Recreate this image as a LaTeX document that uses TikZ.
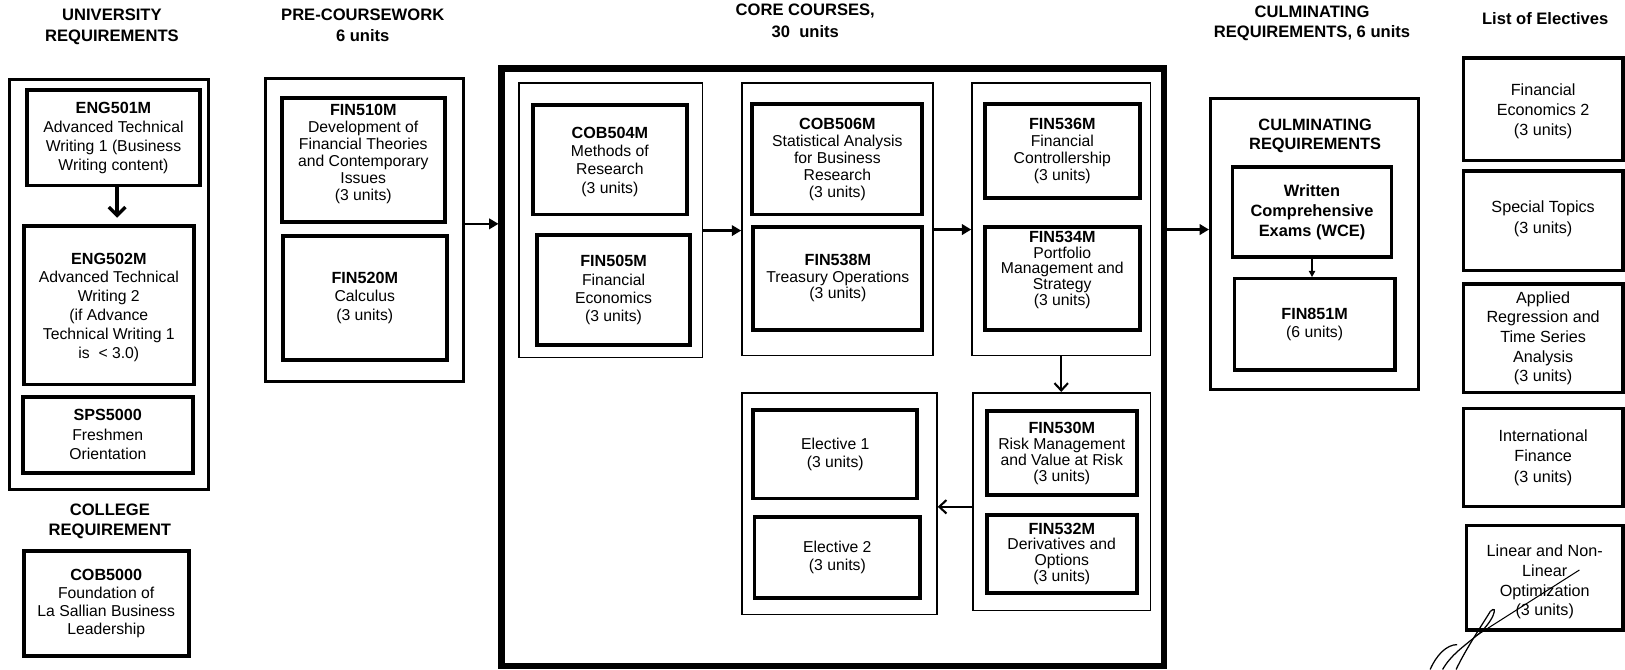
\documentclass[tikz,border=0pt]{standalone}
\usepackage{fontspec}
\setmainfont{Liberation Sans}
\usetikzlibrary{arrows.meta}
\newcommand\fsz[1]{\fontsize{7.6}{#1}\selectfont}
\newcommand\code[1]{{\bfseries\fontsize{7.8}{9}\selectfont #1}}
% box with text: style, name, x1, y1, x2, y2, text options, text
\newcommand\boxnode[8]{%
  \pgfmathsetmacro\bw{(#5-#3)*0.5}%
  \pgfmathsetmacro\bh{(#6-#4)*0.5}%
  \node[#1, minimum width=\bw pt, minimum height=\bh pt] (#2) at ({(#3+#5)/2},{(#4+#6)/2}) {};%
  \node[txt, #7] (#2t) at (#2.center) {#8};}
% box without text
\newcommand\gbox[6]{%
  \pgfmathsetmacro\bw{(#5-#3)*0.5}%
  \pgfmathsetmacro\bh{(#6-#4)*0.5}%
  \node[#1, minimum width=\bw pt, minimum height=\bh pt] (#2) at ({(#3+#5)/2},{(#4+#6)/2}) {};}
\tikzset{
  course/.style={draw, line width=1.9pt, inner sep=0pt},
  outerbox/.style={draw, line width=1.4pt, inner sep=0pt},
  group/.style={draw, line width=0.8pt, inner sep=0pt},
  corebox/.style={draw, line width=3pt, inner sep=0pt},
  elecbox/.style={draw, line width=1.6pt, inner sep=0pt},
  txt/.style={align=center, inner sep=0pt, font={\fsz{8.8}}},
  title/.style={align=center, inner sep=0pt, font={\bfseries\fontsize{8}{9.9}\selectfont}},
  solidarr/.style={line width=1.3pt, -{Triangle[length=4.5pt,width=5pt]}},
  barbthick/.style={line width=1.6pt, -{Straight Barb[length=4pt,width=8pt]}},
  barbarr/.style={line width=1pt, -{Straight Barb[length=3.5pt,width=6.5pt]}},
  thinarr/.style={line width=0.8pt, -{Triangle[length=3pt,width=3pt]}},
}
\begin{document}
\begin{tikzpicture}[x=0.5pt,y=-0.5pt]
\useasboundingbox (0,0) rectangle (1568,646);

% ---- titles
\node[title] (tUniv) at (108,26) {UNIVERSITY\\REQUIREMENTS};
\node[title] (tPre) at (350,24.5) {PRE-COURSEWORK\\6 units};
\node[title, font={\bfseries\fontsize{8}{10.5}\selectfont}] (tCore) at (777,20) {CORE COURSES,\\30\ \ units};
\node[title] (tCulm) at (1266,22.5) {CULMINATING\\REQUIREMENTS, 6 units};
\node[title] (tElec) at (1491,18) {List of Electives};
\node[title] (tColl) at (106,503) {COLLEGE\\REQUIREMENT};

% ---- university requirements
\gbox{outerbox}{univ}{9}{77}{201}{472}
\boxnode{course}{eng1}{26}{87}{193}{179}{font={\fsz{9.1}}}{\code{ENG501M}\\Advanced Technical\\Writing 1 (Business\\Writing content)}
\boxnode{course}{eng2}{23}{218}{187}{371}{yshift=-1pt, font={\fsz{9.1}}}{\code{ENG502M}\\Advanced Technical\\Writing 2\\(if Advance\\Technical Writing 1\\is\ \ < 3.0)}
\boxnode{course}{sps}{22}{383}{186}{456}{font={\fsz{9.4}}}{\code{SPS5000}\\Freshmen\\Orientation}
\boxnode{course}{cob5000}{23}{532}{182}{633}{font={\fsz{8.6}}}{\code{COB5000}\\Foundation of\\La Sallian Business\\Leadership}

% ---- pre-coursework
\gbox{outerbox}{pre}{256}{76}{447}{368}
\boxnode{course}{fin510}{272}{95}{429}{214}{yshift=3pt, font={\fsz{8.2}}}{\code{FIN510M}\\Development of\\Financial Theories\\and Contemporary\\Issues\\(3 units)}
\boxnode{course}{fin520}{273}{228}{431}{347}{font={\fsz{9}}}{\code{FIN520M}\\Calculus\\(3 units)}

% ---- core courses
\gbox{corebox}{core}{484}{66}{1123}{643}
\gbox{group}{gA}{501}{80}{678}{345}
\boxnode{course}{cob504}{514}{101}{663}{207}{yshift=-1pt}{\code{COB504M}\\Methods of\\Research\\(3 units)}
\boxnode{course}{fin505}{518}{227}{666}{333}{}{\code{FIN505M}\\Financial\\Economics\\(3 units)}
\gbox{group}{gB}{716}{80}{900}{343}
\boxnode{course}{cob506}{726}{100}{890}{207}{font={\fsz{8.2}}}{\code{COB506M}\\Statistical Analysis\\for Business\\Research\\(3 units)}
\boxnode{course}{fin538}{727}{219}{890}{318}{font={\fsz{8}}}{\code{FIN538M}\\Treasury Operations\\(3 units)}
\gbox{group}{gC}{938}{80}{1110}{343}
\boxnode{course}{fin536}{950}{100}{1100}{191}{font={\fsz{8.2}}}{\code{FIN536M}\\Financial\\Controllership\\(3 units)}
\boxnode{course}{fin534}{950}{219}{1100}{318}{yshift=4pt, font={\fsz{7.6}}}{\code{FIN534M}\\Portfolio\\Management and\\Strategy\\(3 units)}
\gbox{group}{gD}{939}{379}{1110}{589}
\boxnode{course}{fin530}{952}{397}{1097}{478}{font={\fsz{7.7}}}{\code{FIN530M}\\Risk Management\\and Value at Risk\\(3 units)}
\boxnode{course}{fin532}{952}{497}{1097}{572}{font={\fsz{7.7}}}{\code{FIN532M}\\Derivatives and\\Options\\(3 units)}
\gbox{group}{gE}{716}{379}{904}{593}
\boxnode{course}{el1}{727}{396}{885}{481}{font={\fsz{9}}}{Elective 1\\(3 units)}
\boxnode{course}{el2}{728}{499}{888}{577}{font={\fsz{9}}}{Elective 2\\(3 units)}

% ---- culminating requirements
\gbox{outerbox}{culm}{1168}{95}{1369}{376}
\node[title, font={\bfseries\fontsize{7.9}{9.3}\selectfont}] (culmh) at (1269,131) {CULMINATING\\REQUIREMENTS};
\boxnode{elecbox}{wce}{1189}{161}{1343}{248}{font={\bfseries\fontsize{7.9}{9.6}\selectfont}}{Written\\Comprehensive\\Exams (WCE)}
\boxnode{elecbox}{fin851}{1191}{269}{1346}{357}{font={\fsz{8.6}}}{\code{FIN851M}\\(6 units)}

% ---- list of electives
\boxnode{elecbox}{e1}{1412}{56}{1566}{155}{yshift=-1pt, font={\fontsize{7.8}{9.8}\selectfont}}{Financial\\Economics 2\\(3 units)}
\boxnode{elecbox}{e2}{1412}{165}{1566}{261}{yshift=1pt, font={\fontsize{7.8}{9.8}\selectfont}}{Special Topics\\(3 units)}
\boxnode{elecbox}{e3}{1412}{274}{1566}{379}{font={\fontsize{7.8}{9.5}\selectfont}}{Applied\\Regression and\\Time Series\\Analysis\\(3 units)}
\boxnode{elecbox}{e4}{1412}{394}{1566}{489}{font={\fontsize{7.8}{9.8}\selectfont}}{International\\Finance\\(3 units)}
\boxnode{elecbox}{e5}{1415}{507}{1566}{608}{yshift=-2pt, font={\fontsize{7.8}{9.6}\selectfont}}{Linear and Non-\\Linear\\Optimization\\(3 units)}

% ---- connectors
\draw[barbthick, shorten >=3pt] ([xshift=1.75pt]eng1.south) -- ([xshift=1.75pt]eng1.south |- eng2.north);
\draw[solidarr] ([yshift=3pt]pre.east) -- ([yshift=3pt]pre.east -| core.west);
\draw[solidarr] ([yshift=-5pt]gA.east) -- ([yshift=-5pt]gA.east -| gB.west);
\draw[solidarr] ([yshift=-5pt]gB.east) -- ([yshift=-5pt]gB.east -| gC.west);
\draw[barbarr] (gC.south) -- (gC.south |- gD.north);
\draw[barbarr] ([yshift=-2.5pt]gD.west) -- ([yshift=-2.5pt]gD.west -| gE.east);
\draw[solidarr] ([yshift=7pt]culm.west -| core.east) -- ([yshift=7pt]culm.west);
\draw[thinarr] (wce.south) -- (wce.south |- fin851.north);

% ---- signature scribble
\draw[line width=0.5pt] (1524,550) -- (1425,613);
\draw[line width=0.6pt] (1438,590) .. controls (1432,600) and (1415,625) .. (1405,646);
\draw[line width=0.6pt] (1438,590) .. controls (1446,582) and (1442,600) .. (1424,614) .. controls (1412,624) and (1400,632) .. (1392,646);
\draw[line width=0.6pt] (1380,646) .. controls (1386,632) and (1396,622) .. (1406,622);
\end{tikzpicture}
\end{document}
